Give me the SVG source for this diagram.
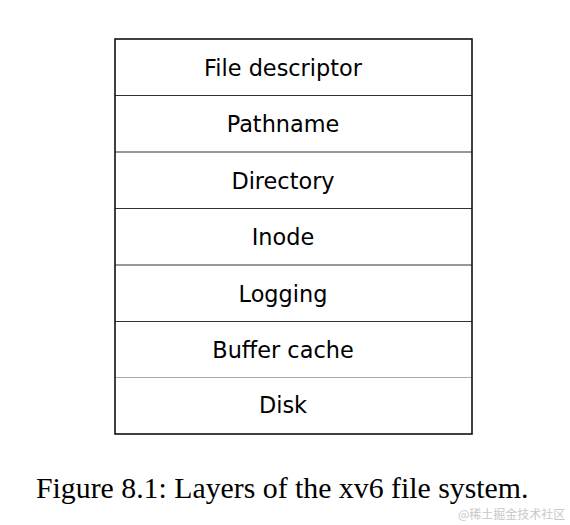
<svg xmlns="http://www.w3.org/2000/svg" width="570" height="525" viewBox="0 0 570 525">
<style>
.lbl{font-family:"DejaVu Sans",sans-serif;font-size:22.4px;fill:#000;text-anchor:middle}
.div{stroke:#333;stroke-width:1.2}
.cap{font-family:"Liberation Serif",serif;font-size:29.8px;fill:#000}
.wm{font-family:"Noto Sans CJK SC",sans-serif;font-size:12px;fill:#c8c8c8}
</style>
<rect width="570" height="525" fill="#fff"/>
<g id="connectors">
<line class="div" x1="115" y1="95.5" x2="472" y2="95.5"/>
<line class="div" x1="115" y1="152" x2="472" y2="152"/>
<line class="div" x1="115" y1="208.5" x2="472" y2="208.5"/>
<line class="div" x1="115" y1="265" x2="472" y2="265"/>
<line class="div" x1="115" y1="321.5" x2="472" y2="321.5"/>
<line x1="115" y1="377.5" x2="472" y2="377.5" stroke="#aaa" stroke-width="1.2"/>
</g>
<rect x="115" y="39" width="357" height="395" fill="none" stroke="#111" stroke-width="1.6"/>
<g id="file-descriptor"><text class="lbl" x="283" y="75.5">File descriptor</text></g>
<g id="pathname"><text class="lbl" x="283" y="132">Pathname</text></g>
<g id="directory"><text class="lbl" x="283" y="188.5">Directory</text></g>
<g id="inode"><text class="lbl" x="283" y="245">Inode</text></g>
<g id="logging"><text class="lbl" x="283" y="301.5">Logging</text></g>
<g id="buffer-cache"><text class="lbl" x="283" y="358">Buffer cache</text></g>
<g id="disk"><text class="lbl" x="283" y="413">Disk</text></g>
<text class="cap" x="36" y="498">Figure 8.1: Layers of the xv6 file system.</text>
<text class="wm" x="458" y="519">@稀土掘金技术社区</text>
</svg>
